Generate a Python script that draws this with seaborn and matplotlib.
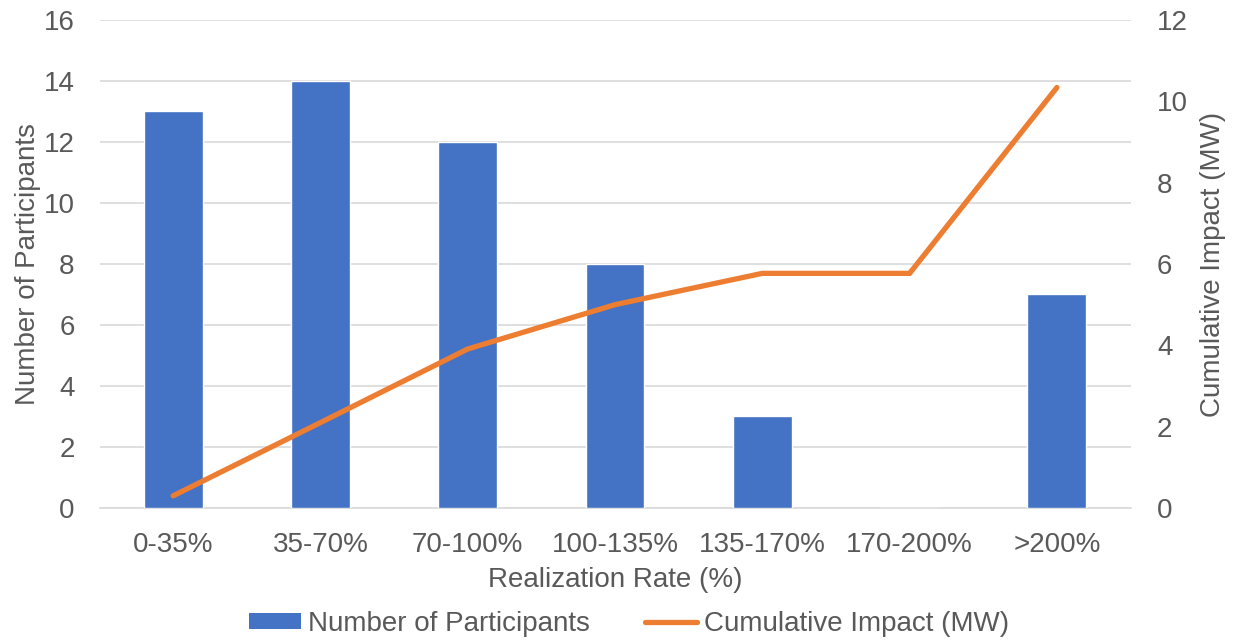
import numpy as np
import pandas as pd
import matplotlib
matplotlib.use("Agg")
import matplotlib.pyplot as plt
import seaborn as sns
from matplotlib.patches import Patch
from matplotlib.lines import Line2D

# Realization rate bins and results
categories = ["0-35%", "35-70%", "70-100%", "100-135%", "135-170%", "170-200%", ">200%"]
participants = [13, 14, 12, 8, 3, 0, 7]
cumulative_mw = [0.30, 2.10, 3.91, 5.00, 5.77, 5.77, 10.34]

left_ticks = [0, 2, 4, 6, 8, 10, 12, 14, 16]
right_ticks = [0, 2, 4, 6, 8, 10, 12]

BLUE = "#4472C4"
ORANGE = "#ED7D31"
TEXT = "#595959"
GRID = "#D9D9D9"
FS = 20

sns.set_theme(style="white")
plt.rcParams["font.family"] = ["Liberation Sans", "DejaVu Sans"]

fig = plt.figure(figsize=(12.33, 6.41), dpi=100)
ax = fig.add_axes([0.0807, 0.2075, 0.8362, 0.7613])

df = pd.DataFrame({"rate": categories, "count": participants})
sns.barplot(data=df, x="rate", y="count", ax=ax, color=BLUE, saturation=1,
            width=0.4, order=categories, zorder=3)

ax.set_ylim(0, 16)
ax.set_yticks(left_ticks)
ax.set_xlim(-0.5, len(categories) - 0.5)
ax.yaxis.grid(True, color=GRID, linewidth=1.2, zorder=0)
ax.set_axisbelow(True)
for s in ["top", "right", "left"]:
    ax.spines[s].set_visible(False)
ax.spines["bottom"].set_color(GRID)
ax.spines["bottom"].set_linewidth(1.2)
ax.tick_params(axis="both", length=0, labelsize=FS, labelcolor=TEXT)
ax.tick_params(axis="x", pad=17)
ax.tick_params(axis="y", pad=18)
ax.set_xlabel("Realization Rate (%)", fontsize=FS, color=TEXT, labelpad=7)
ax.set_ylabel("Number of Participants", fontsize=FS, color=TEXT, labelpad=2)

ax2 = ax.twinx()
sns.lineplot(x=np.arange(len(categories)), y=cumulative_mw, ax=ax2, color=ORANGE,
             linewidth=3.8, solid_capstyle="round", solid_joinstyle="miter", zorder=4)
ax2.set_ylim(0, 12)
ax2.set_yticks(right_ticks)
for s in ax2.spines.values():
    s.set_visible(False)
ax2.tick_params(axis="y", length=0, labelsize=FS, labelcolor=TEXT, pad=19)
ax2.set_ylabel("Cumulative Impact (MW)", fontsize=FS, color=TEXT, labelpad=9)
ax2.grid(False)

handles = [Patch(facecolor=BLUE, edgecolor="none"),
           Line2D([0], [0], color=ORANGE, linewidth=3.8, solid_capstyle="round")]
fig.legend(handles, ["Number of Participants", "Cumulative Impact (MW)"],
           loc="center", bbox_to_anchor=(0.510, 0.0265), ncol=2, frameon=False,
           fontsize=FS, labelcolor=TEXT, handlelength=1.87, handleheight=0.54,
           handletextpad=0.25, columnspacing=2.0, borderpad=0, borderaxespad=0)

fig.savefig("out.png", dpi=100)
